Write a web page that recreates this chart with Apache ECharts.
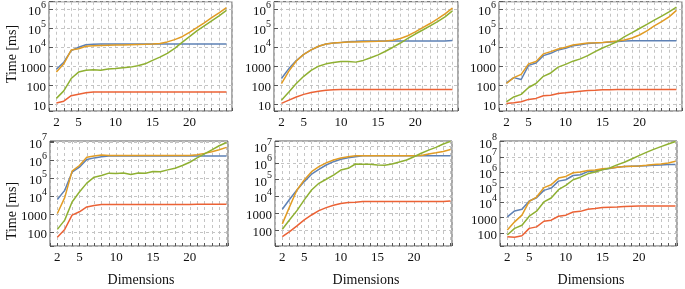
<!DOCTYPE html>
<html><head><meta charset="utf-8">
<script src="https://cdn.jsdelivr.net/npm/echarts@6/dist/echarts.min.js"></script>
<style>html,body{margin:0;padding:0;background:#fff}#c{width:685px;height:289px}</style>
</head><body><div id="c"></div>
<script>
// ---------- data ----------
const dims = [2,3,4,5,6,7,8,9,10,11,12,13,14,15,16,17,18,19,20,21,22,23,24,25];
const xTickLabels = [2, 5, 10, 15, 20];
const topYTicks = [10, 100, 1000, 1e4, 1e5, 1e6];
const p4YTicks = [100, 1000, 1e4, 1e5, 1e6, 1e7];
const p5YTicks = [100, 1000, 1e4, 1e5, 1e6, 1e7];
const p6YTicks = [100, 1000, 1e4, 1e5, 1e6, 1e7, 1e8];
const yTitle = 'Time [ms]';
const xTitle = 'Dimensions';

// panel 1 (top left)
const p1Blue   = [700,1650,6600,10000,13500,14500,14800,14800,14800,14800,14800,14800,14800,14800,14800,14800,14800,14800,14800,14800,14800,14800,14800,14800];
const p1Orange = [500,1350,7100,8300,11200,12000,12300,12600,12900,13200,13500,13800,14100,14800,15800,19000,25000,35500,60000,105000,190000,350000,630000,1170000];
const p1Green  = [21,52,230,500,620,660,620,720,760,850,910,1070,1350,2040,3020,4790,8700,17800,35500,72000,132000,240000,440000,850000];
const p1Red    = [12,15,29,35,41,45,45,45,45,45,45,45,45,45,45,45,45,45,45,45,45,45,45,45];
// panel 2 (top middle)
const p2Blue   = [230,760,2000,4200,7200,11200,14800,16600,17800,19500,20400,21400,21400,21400,21400,21400,21400,21400,21400,21400,21400,21400,21400,22500];
const p2Orange = [126,560,1900,4200,7200,11200,14800,16600,17800,18600,19000,19500,20000,20400,20900,22900,28800,39800,63000,105000,174000,302000,550000,1120000];
const p2Green  = [17,46,126,300,620,1020,1350,1580,1780,1780,1660,2040,2820,3980,6170,10000,16600,28800,49000,79400,132000,219000,389000,794000];
const p2Red    = [11.5,17,25,34,43,50,56,59,62,62,62,62,62,62,62,62,62,62,62,62,62,62,62,62];
// panel 3 (top right)
const p3Blue   = [135,257,204,1120,1480,3630,4790,7240,8710,12000,13500,15800,16600,17400,18600,20000,21400,21900,21900,21900,21900,21900,21900,21900];
const p3Orange = [126,257,380,1350,1780,4470,5890,8130,10000,13200,14800,16600,17000,17800,19500,21400,24000,30200,43700,72400,132000,219000,389000,851000];
const p3Green  = [14,25,34,78,126,300,450,910,1260,1860,2450,3630,5890,9120,13200,20000,35500,57500,95500,158000,263000,427000,708000,1260000];
const p3Red    = [11.5,12.3,14,18.6,21,29,31,38,41,46,50,54,56,59,60,62,62,62,62,62,62,62,62,62];
// panel 4 (bottom left)
const p4Blue   = [6500,21000,209000,398000,1050000,1290000,1510000,1660000,1660000,1660000,1660000,1660000,1660000,1660000,1660000,1660000,1660000,1660000,1660000,1660000,1660000,1660000,1660000,1660000];
const p4Orange = [1120,8300,240000,490000,1380000,1660000,1860000,1740000,1740000,1740000,1740000,1740000,1740000,1740000,1740000,1740000,1740000,1740000,1740000,1910000,2290000,2820000,3630000,4900000];
const p4Green  = [148,480,4790,17000,52500,112000,138000,186000,178000,191000,158000,191000,186000,229000,224000,282000,347000,490000,741000,1290000,2140000,3550000,6030000,9120000];
const p4Red    = [55,148,910,1380,2570,3090,3470,3470,3470,3470,3470,3470,3470,3470,3470,3470,3470,3470,3470,3550,3550,3550,3550,3550];
// panel 5 (bottom middle)
const p5Blue   = [1700,6760,24000,75900,209000,407000,741000,1170000,1620000,2000000,2290000,2630000,2630000,2630000,2630000,2630000,2630000,2630000,2630000,2630000,2630000,2630000,2630000,2630000];
const p5Orange = [229,2450,24000,95500,295000,589000,1000000,1480000,1950000,2290000,2630000,2630000,2630000,2630000,2630000,2630000,2630000,2630000,2630000,2750000,3310000,3980000,4790000,6310000];
const p5Green  = [110,400,1410,6170,24000,60300,105000,186000,372000,468000,851000,813000,813000,741000,708000,851000,1120000,1480000,2290000,3720000,5750000,8320000,13200000,19000000];
const p5Red    = [40,79,174,398,776,1410,2140,2950,3720,4270,4470,4900,4900,4900,4900,4900,4900,4900,4900,4900,4900,4900,4900,5250];
// panel 6 (bottom right)
const p6Blue   = [1120,2750,3550,12300,20400,61700,87100,251000,309000,589000,661000,1070000,1170000,1450000,1700000,2040000,2290000,2400000,2510000,2630000,2750000,2880000,3090000,3090000];
const p6Orange = [151,525,1450,11700,22400,93300,145000,398000,513000,891000,1000000,1260000,1380000,1620000,1780000,2040000,2290000,2400000,2510000,2750000,3090000,3390000,3980000,5130000];
const p6Green  = [71,195,316,1230,2630,10700,19500,69200,132000,309000,457000,759000,1000000,1380000,1860000,2950000,4370000,7240000,12000000,19500000,30900000,46800000,69200000,102000000];
const p6Red    = [55,51,63,195,245,575,676,1230,1450,2340,2570,3550,3980,4570,4790,5010,5370,5620,5750,5750,5750,5750,5750,5750];

// ---------- layout / style ----------
const FONT = 'Liberation Serif';
const COLORS = ['#5e81b5', '#e19c24', '#8fb032', '#eb6235'];
const panels = [
  {grid:{left:49, top:1, width:183, height:110}, x:[1,25.75], y:[4.6,2.4e6], ticks:topYTicks, s:[p1Blue,p1Orange,p1Green,p1Red]},
  {grid:{left:274, top:1, width:184, height:110}, x:[1,25.75], y:[4.6,2.4e6], ticks:topYTicks, s:[p2Blue,p2Orange,p2Green,p2Red]},
  {grid:{left:499, top:1, width:184, height:110}, x:[1,25.75], y:[4.6,2.4e6], ticks:topYTicks, s:[p3Blue,p3Orange,p3Green,p3Red]},
  {grid:{left:50, top:141, width:178, height:105}, x:[1,25.2], y:[18,1.1e7], ticks:p4YTicks, s:[p4Blue,p4Orange,p4Green,p4Red]},
  {grid:{left:275, top:141, width:177, height:105}, x:[1,25.2], y:[11,2e7], ticks:p5YTicks, s:[p5Blue,p5Orange,p5Green,p5Red]},
  {grid:{left:500, top:141, width:177, height:105}, x:[1,25.2], y:[13.5,1.1e8], ticks:p6YTicks, s:[p6Blue,p6Orange,p6Green,p6Red]}
];

const dash = {type:[3,3], color:'#c4c4c4', width:1};
const grids = [], xAxes = [], yAxes = [], series = [];
panels.forEach((p, i) => {
  grids.push(Object.assign({show:true, borderColor:'#555', borderWidth:1, backgroundColor:'transparent'}, p.grid));
  xAxes.push({
    type:'value', gridIndex:i, min:p.x[0], max:p.x[1], interval:1,
    axisLine:{show:false},
    axisTick:{show:true, inside:true, length:3, lineStyle:{color:'#555'}},
    splitLine:{show:true, lineStyle:dash},
    axisLabel:{interval:0, margin:5, fontFamily:FONT, fontSize:13, color:'#111',
      formatter:v => xTickLabels.indexOf(v) >= 0 ? String(v) : ''}
  });
  const ticks = p.ticks;
  yAxes.push({
    type:'log', logBase:10, gridIndex:i, min:p.y[0], max:p.y[1],
    axisLine:{show:false},
    axisTick:{show:true, inside:true, length:4, lineStyle:{color:'#555'}},
    splitLine:{show:true, lineStyle:dash},
    axisLabel:{interval:0, margin:3, fontFamily:FONT, fontSize:13, color:'#111',
      formatter:v => {
        const hit = ticks.find(t => Math.abs(Math.log10(v) - Math.log10(t)) < 1e-4);
        if (hit === undefined) return '';
        const e = Math.round(Math.log10(hit));
        return hit < 1e4 ? '{b|' + hit + '}' : '{b|10}{s|' + e + '}';
      },
      rich:{
        b:{fontFamily:FONT, fontSize:13, lineHeight:18, color:'#111', verticalAlign:'bottom'},
        s:{fontFamily:FONT, fontSize:10, lineHeight:10, color:'#111', verticalAlign:'top'}
      }
    }
  });
  p.s.forEach((arr, k) => {
    series.push({
      type:'line', xAxisIndex:i, yAxisIndex:i, showSymbol:false, silent:true,
      lineStyle:{color:COLORS[k], width:1.5}, itemStyle:{color:COLORS[k]},
      data:dims.map((d, j) => [d, arr[j]])
    });
  });
});

const txt = (x, y, s, rot) => ({type:'text', x:x, y:y, rotation:rot || 0,
  style:{text:s, fontFamily:FONT, fontSize:14, fill:'#111', align:'center', verticalAlign:'middle'}});

const chart = echarts.init(document.getElementById('c'), null, {renderer:'canvas'});
chart.setOption({
  animation:false,
  grid:grids, xAxis:xAxes, yAxis:yAxes, series:series,
  graphic:[
    txt(12, 54, yTitle, Math.PI/2),
    txt(12, 211, yTitle, Math.PI/2),
    txt(141, 280, xTitle),
    txt(366, 280, xTitle),
    txt(591, 280, xTitle)
  ]
});
</script></body></html>
